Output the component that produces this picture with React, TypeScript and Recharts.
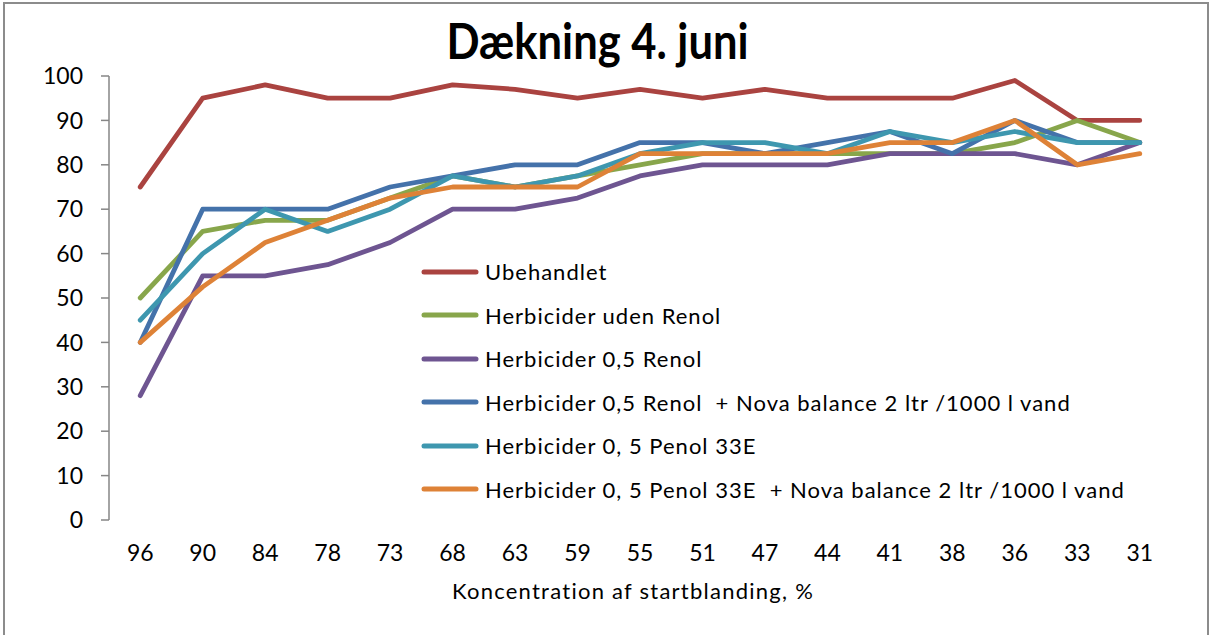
import React from 'react';
import { LineChart, Line, XAxis, YAxis } from 'recharts';

const categories = ['96', '90', '84', '78', '73', '68', '63', '59', '55', '51', '47', '44', '41', '38', '36', '33', '31'];
const ubehandlet = [75, 95, 98, 95, 95, 98, 97, 95, 97, 95, 97, 95, 95, 95, 99, 90, 90];
const udenRenol = [50, 65, 67.5, 67.5, 72.5, 77.5, 75, 77.5, 80, 82.5, 82.5, 82.5, 82.5, 82.5, 85, 90, 85];
const renol05 = [28, 55, 55, 57.5, 62.5, 70, 70, 72.5, 77.5, 80, 80, 80, 82.5, 82.5, 82.5, 80, 85];
const renolNova = [40, 70, 70, 70, 75, 77.5, 80, 80, 85, 85, 82.5, 85, 87.5, 82.5, 90, 85, 85];
const penol = [45, 60, 70, 65, 70, 77.5, 75, 77.5, 82.5, 85, 85, 82.5, 87.5, 85, 87.5, 85, 85];
const penolNova = [40, 52.5, 62.5, 67.5, 72.5, 75, 75, 75, 82.5, 82.5, 82.5, 82.5, 85, 85, 90, 80, 82.5];

const yTicks = [0, 10, 20, 30, 40, 50, 60, 70, 80, 90, 100];
const boundaryTicks = categories.map((_, i) => i).concat([categories.length]);

const seriesNames = [
  'Ubehandlet',
  'Herbicider uden Renol',
  'Herbicider 0,5 Renol',
  'Herbicider 0,5 Renol  + Nova balance 2 ltr /1000 l vand',
  'Herbicider 0, 5 Penol 33E',
  'Herbicider 0, 5 Penol 33E  + Nova balance 2 ltr /1000 l vand',
];
const seriesColors = ['#AA4340', '#88A64B', '#6E5591', '#4472AA', '#3E97AF', '#DE8237'];
const seriesValues = [ubehandlet, udenRenol, renol05, renolNova, penol, penolNova];

const data = categories.map((c, i) => {
  const row: Record<string, string | number> = { cat: c };
  seriesValues.forEach((vals, k) => {
    row['s' + k] = vals[i];
  });
  return row;
});

const AXIS_GRAY = '#868686';
const TEXT_FONT = 'Lato, "Open Sans", sans-serif';

function LegendBox() {
  return (
    <div style={{ position: 'absolute', left: 420, top: 250, display: 'flex', flexDirection: 'column' }}>
      {seriesNames.map((name, i) => (
        <div key={name} style={{ height: 43.5, display: 'flex', alignItems: 'center' }}>
          <svg width={60} height={10} style={{ display: 'block' }}>
            <line x1={4} y1={5} x2={56} y2={5} stroke={seriesColors[i]} strokeWidth={5} strokeLinecap="round" />
          </svg>
          <span
            style={{
              marginLeft: 5,
              fontFamily: TEXT_FONT,
              fontSize: 22,
              letterSpacing: 1.0,
              color: '#000',
              whiteSpace: 'pre',
            }}
          >
            {name}
          </span>
        </div>
      ))}
    </div>
  );
}

export default function App() {
  return (
    <div style={{ position: 'absolute', left: 0, top: 0, width: 1215, height: 635, overflow: 'hidden', background: '#fff' }}>
      <div
        style={{
          position: 'absolute',
          left: 3,
          top: 2,
          width: 1206,
          height: 700,
          border: '2px solid #8c8c8c',
          boxSizing: 'border-box',
        }}
      />
      <div style={{ position: 'absolute', left: 0, width: 1196, top: 10, textAlign: 'center' }}>
        <span
          style={{
            display: 'inline-block',
            transform: 'scaleX(0.87)',
            fontFamily: TEXT_FONT,
            fontWeight: 'bold',
            fontSize: 50,
            lineHeight: '60px',
            color: '#000',
          }}
        >
          Dækning 4. juni
        </span>
      </div>
      <div
        style={{
          position: 'absolute',
          left: 0,
          width: 1266,
          top: 576,
          textAlign: 'center',
          fontFamily: TEXT_FONT,
          fontSize: 22,
          letterSpacing: 1.25,
          lineHeight: '30px',
          color: '#000',
        }}
      >
        Koncentration af startblanding, %
      </div>
      <div style={{ position: 'absolute', left: 0, top: 0 }}>
        <LineChart width={1215} height={635} data={data} margin={{ top: 76, right: 44, bottom: 75, left: 0 }}>
          <XAxis
            xAxisId="g"
            type="number"
            domain={[0, categories.length]}
            ticks={boundaryTicks}
            interval={0}
            tickFormatter={() => ''}
            stroke={AXIS_GRAY}
            strokeWidth={1.5}
            tickSize={6}
            height={0}
            allowDataOverflow
          />
          <XAxis
            xAxisId="c"
            dataKey="cat"
            scale="band"
            interval={0}
            axisLine={false}
            tickLine={false}
            tickSize={0}
            tickMargin={25}
            height={40}
            tick={{ fill: '#000', fontSize: 23, fontFamily: TEXT_FONT }}
          />
          <YAxis
            domain={[0, 100]}
            ticks={yTicks}
            interval={0}
            width={109}
            tickSize={8}
            tickMargin={18}
            stroke={AXIS_GRAY}
            strokeWidth={1.5}
            tick={{ fill: '#000', fontSize: 23, fontFamily: TEXT_FONT }}
          />
          {seriesNames.map((name, k) => (
            <Line
              key={name}
              xAxisId="c"
              type="linear"
              dataKey={'s' + k}
              name={name}
              stroke={seriesColors[k]}
              strokeWidth={4.8}
              strokeLinecap="round"
              strokeLinejoin="round"
              dot={false}
              activeDot={false}
              isAnimationActive={false}
            />
          ))}
        </LineChart>
      </div>
      <LegendBox />
    </div>
  );
}
